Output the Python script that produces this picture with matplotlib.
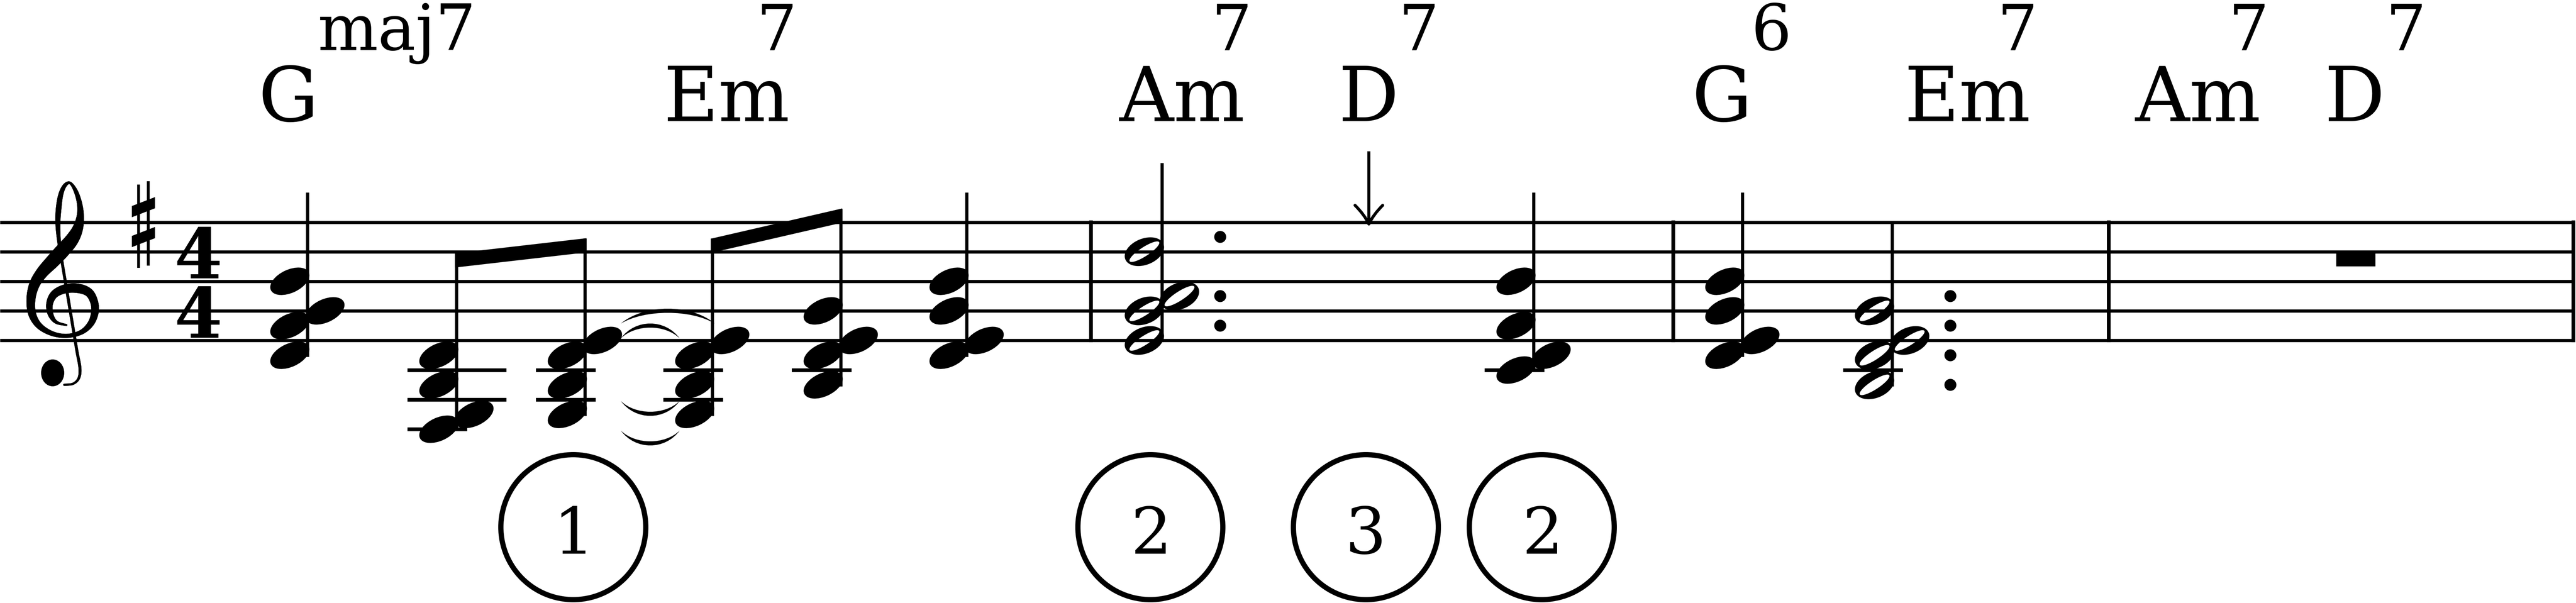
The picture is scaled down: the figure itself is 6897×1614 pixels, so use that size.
import numpy as np
import matplotlib
matplotlib.use("Agg")
import matplotlib.pyplot as plt
from matplotlib.patches import Ellipse, Circle, Rectangle, Polygon, PathPatch
from matplotlib.path import Path
from matplotlib.collections import LineCollection
from matplotlib.textpath import TextPath
from matplotlib.font_manager import FontProperties


### Dados da partitura (G maior, 4/4)

# acordes: notas de baixo para cima (o F# vem da armadura)
chord_notes = [
    ["D4", "F#4", "G4", "B4"],
    ["F#3", "G3", "B3", "D4"],
    ["G3", "B3", "D4", "E4"],
    ["G3", "B3", "D4", "E4"],
    ["B3", "D4", "E4", "G4"],
    ["D4", "E4", "G4", "B4"],
    ["E4", "G4", "A4", "D5"],
    ["C4", "D4", "F#4", "B4"],
    ["D4", "E4", "G4", "B4"],
    ["B3", "D4", "E4", "G4"],
]
chord_measure = [1, 1, 1, 1, 1, 1, 2, 2, 3, 3]
chord_beat = [1, 2, 2.5, 3, 3.5, 4, 1, 4, 1, 2]
chord_dur = [1, 0.5, 0.5, 0.5, 0.5, 1, 3, 1, 1, 3]   # em semínimas
beam_groups = [(1, 2), (3, 4)]
ties = [(2, 3)]
rest_measures = [4]
time_sig = ("4", "4")

symbol_roots = ["G", "Em", "Am", "D", "G", "Em", "Am", "D"]
symbol_sups = ["maj7", "7", "7", "7", "6", "7", "7", "7"]
arrow_at = (2, 3)
circle_labels = ["1", "2", "3", "2"]


### Layout (em pixels da imagem)
W, H = 6897, 1614
DPI = 100
PT = 72 / DPI                      # pontos por pixel
SS = 79.2                          # espaço da pauta
STAFF_TOP = 594.5
STAFF_X1 = 6894
BAR_X = [2921, 4480, 5646, 6890]
# espaçamento do gravador: x da haste de cada coluna (compasso, tempo)
COLUMN_X = {(1, 1): 823, (1, 2): 1222, (1, 2.5): 1566, (1, 3): 1907,
            (1, 3.5): 2251, (1, 4): 2588, (2, 1): 3111, (2, 3): 3665,
            (2, 4): 4106, (3, 1): 4665, (3, 2): 5066}
REST_X = 6307
NAME_X = [703, 1788, 2995, 3595, 4541, 5110, 5715, 6235]
SUP_X = [857, 2040, 3258, 3759, 4700, 5362, 5981, 6402]
NAME_BASE, NAME_CAP = 324, 147
SUP_BASE, SUP_CAP = 134, 124
CIRCLE_X = [1535, 3080, 3657, 4128]
CIRCLE_Y, CIRCLE_R = 1411, 194

STAFF_LW = 8.5
STEM_LW = 8.5
LEDGER_LW = 10
HEAD_A, HEAD_B, HEAD_ANG = 56, 31, -25

serif = FontProperties(family="DejaVu Serif")
serif_bold = FontProperties(family="DejaVu Serif", weight="bold")


def step_of(name):
    return "CDEFGAB".index(name[0]) + 7 * int(name[-1])


def y_of(step):
    # E4 (degrau 30) na linha de baixo
    return STAFF_TOP + 4 * SS - (step - 30) * SS / 2


def head_columns(steps):
    # segunda acima de uma cabeça à esquerda vai para o outro lado da haste
    cols = []
    for i, s in enumerate(steps):
        if i > 0 and s - steps[i - 1] == 1 and cols[-1] == 0:
            cols.append(1)
        else:
            cols.append(0)
    return cols


def ellipse_pts(x, y, a, b, ang, n=90, reverse=False):
    t = np.linspace(0, 2 * np.pi, n, endpoint=False)
    if reverse:
        t = t[::-1]
    c, s = np.cos(np.radians(ang)), np.sin(np.radians(ang))
    ex, ey = a * np.cos(t), b * np.sin(t)
    return np.column_stack([x + ex * c - ey * s, y + ex * s + ey * c])


def draw_head(ax, x, y, hollow):
    if not hollow:
        ax.add_patch(Ellipse((x, y), 2 * HEAD_A, 2 * HEAD_B, angle=HEAD_ANG,
                             color="black", lw=0, zorder=4))
        return
    outer = ellipse_pts(x, y, 55, 35, -22)
    inner = ellipse_pts(x, y, 47, 12, -33, reverse=True)
    verts = np.vstack([outer, outer[:1], inner, inner[:1]])
    codes = ([Path.MOVETO] + [Path.LINETO] * (len(outer) - 1) + [Path.CLOSEPOLY] +
             [Path.MOVETO] + [Path.LINETO] * (len(inner) - 1) + [Path.CLOSEPOLY])
    ax.add_patch(PathPatch(Path(verts, codes), color="black", lw=0, zorder=4))


def put_text(ax, s, x, baseline, height, ref, fp, align="left"):
    ref_h = TextPath((0, 0), ref, size=100, prop=fp).get_extents().y1 / 100
    size = height / ref_h
    ext = TextPath((0, 0), s, size=size, prop=fp).get_extents()
    if align == "left":
        x0 = x - ext.x0
    else:
        x0 = x - (ext.x0 + ext.x1) / 2
    f = fp.copy()
    f.set_size(size * PT)
    ax.text(x0, baseline, s, fontproperties=f, va="baseline", ha="left",
            color="black", zorder=5)


def put_time_sig(fig, ax, top, bottom, xc, base1, base2, height, fp):
    # um só texto de duas linhas, com o entrelinha ajustado às linhas da pauta
    ref_h = TextPath((0, 0), top, size=100, prop=fp).get_extents().y1 / 100
    size = height / ref_h
    ext = TextPath((0, 0), top, size=size, prop=fp).get_extents()
    f = fp.copy()
    f.set_size(size * PT)
    r = fig.canvas.get_renderer()
    _, lp_h, lp_d = r.get_text_width_height_descent("lp", f, ismath=False)
    asc = lp_h - lp_d
    ls = (base2 - base1 - lp_d) / asc
    ax.text(xc - (ext.x0 + ext.x1) / 2, base1 - asc, top + "\n" + bottom,
            fontproperties=f, va="top", ha="left", linespacing=ls,
            color="black", zorder=5)


def catmull(pts, n=16):
    P = np.vstack([pts[0], pts, pts[-1]])
    out = []
    for i in range(1, len(P) - 2):
        p0, p1, p2, p3 = P[i - 1], P[i], P[i + 1], P[i + 2]
        t = np.linspace(0, 1, n, endpoint=False)[:, None]
        out.append(0.5 * (2 * p1 + (-p0 + p2) * t + (2 * p0 - 5 * p1 + 4 * p2 - p3) * t ** 2
                          + (-p0 + 3 * p1 - 3 * p2 + p3) * t ** 3))
    out.append(P[-2][None])
    return np.vstack(out)


def draw_clef(ax):
    # linha central da clave de sol (x, y, espessura em px)
    pts = np.array([
        (178, 870, 5), (150, 862, 9), (135, 840, 15), (133, 812, 18),
        (146, 787, 21), (175, 773, 24), (210, 772, 25), (238, 783, 23),
        (252, 808, 21), (254, 836, 20), (243, 866, 17), (218, 889, 13),
        (180, 899, 11), (140, 893, 13), (105, 872, 17), (86, 840, 21),
        (83, 800, 24), (92, 762, 28), (112, 730, 32), (140, 700, 37),
        (168, 670, 39), (192, 642, 36), (208, 612, 28), (215, 578, 19),
        (213, 545, 14), (203, 512, 11), (188, 490, 7), (174, 496, 10),
        (163, 520, 13), (157, 558, 15), (155, 600, 13), (158, 645, 10),
        (166, 700, 8), (176, 760, 8), (186, 820, 8), (196, 880, 8),
        (206, 940, 8), (214, 985, 8), (211, 1012, 7), (196, 1027, 6),
        (172, 1030, 6),
    ], float)
    curve = catmull(pts)
    segs = np.stack([curve[:-1, :2], curve[1:, :2]], axis=1)
    widths = (curve[:-1, 2] + curve[1:, 2]) / 2 * PT
    ax.add_collection(LineCollection(segs, linewidths=widths, colors="black",
                                     capstyle="round", zorder=4))
    ax.add_patch(Ellipse((141, 998), 62, 72, color="black", lw=0, zorder=4))


def draw_sharp(ax, x, y):
    ax.plot([x - 13, x - 13], [y - 101, y + 122], color="black", lw=7.5 * PT,
            solid_capstyle="butt", zorder=4)
    ax.plot([x + 13, x + 13], [y - 110, y + 116], color="black", lw=7.5 * PT,
            solid_capstyle="butt", zorder=4)
    for dy in (-40, 40):
        cy = y + dy
        ax.add_patch(Polygon([(x - 31, cy - 15 + 12), (x + 31, cy - 15 - 12),
                              (x + 31, cy + 15 - 12), (x - 31, cy + 15 + 12)],
                             closed=True, color="black", lw=0, zorder=4))


def draw_tie(ax, x1, x2, y0, up, h=40, thick=11):
    sgn = -1 if up else 1
    L = x2 - x1
    ho, hi = h * 4 / 3, (h - thick) * 4 / 3
    verts = [(x1, y0), (x1 + 0.25 * L, y0 + sgn * ho), (x2 - 0.25 * L, y0 + sgn * ho), (x2, y0),
             (x2 - 0.25 * L, y0 + sgn * hi), (x1 + 0.25 * L, y0 + sgn * hi), (x1, y0), (x1, y0)]
    codes = [Path.MOVETO, Path.CURVE4, Path.CURVE4, Path.CURVE4,
             Path.CURVE4, Path.CURVE4, Path.CURVE4, Path.CLOSEPOLY]
    ax.add_patch(PathPatch(Path(verts, codes), color="black", lw=0, zorder=4))


if __name__ == "__main__":
    fig = plt.figure(figsize=(W / DPI, H / DPI), dpi=DPI)
    ax = fig.add_axes([0, 0, 1, 1])
    ax.set_xlim(0, W)
    ax.set_ylim(H, 0)
    ax.axis("off")

    # pauta e barras de compasso
    for i in range(5):
        ax.plot([0, STAFF_X1], [STAFF_TOP + i * SS] * 2, color="black",
                lw=STAFF_LW * PT, solid_capstyle="butt", zorder=1)
    for bx in BAR_X:
        ax.plot([bx, bx], [STAFF_TOP - STAFF_LW / 2, STAFF_TOP + 4 * SS + STAFF_LW / 2],
                color="black", lw=10 * PT, solid_capstyle="butt", zorder=2)

    draw_clef(ax)
    draw_sharp(ax, 384, y_of(step_of("F5")))
    put_time_sig(fig, ax, time_sig[0], time_sig[1], 531, 745, 904, 137, serif_bold)

    # geometria de cada acorde
    info = []
    for k, notes in enumerate(chord_notes):
        steps = sorted(step_of(n) for n in notes)
        cols = head_columns(steps)
        sx = COLUMN_X[(chord_measure[k], chord_beat[k])]
        info.append(dict(steps=steps, cols=cols, x=sx,
                         low=y_of(steps[0]), high=y_of(steps[-1])))

    # barras de colcheia
    stem_top = {}
    for a, b in beam_groups:
        ta = info[a]["high"] - 3.45 * SS
        tb = info[b]["high"] - 3.45 * SS
        xa, xb = info[a]["x"] - 4, info[b]["x"] + 4
        slope = (tb - ta) / (info[b]["x"] - info[a]["x"])
        ya, yb = ta - 4 * slope, tb + 4 * slope
        ax.add_patch(Polygon([(xa, ya), (xb, yb), (xb, yb + 38), (xa, ya + 38)],
                             closed=True, color="black", lw=0, zorder=4))
        stem_top[a], stem_top[b] = ta, tb

    for k, c in enumerate(info):
        sx = c["x"]
        hollow = chord_dur[k] >= 2
        for s, col in zip(c["steps"], c["cols"]):
            hx = sx - 47 if col == 0 else sx + 47
            draw_head(ax, hx, y_of(s), hollow)
        # linhas suplementares
        for L in (28, 26, 24):
            below = [col for s, col in zip(c["steps"], c["cols"]) if s <= L]
            if not below:
                continue
            x0 = sx - 131 if 0 in below else sx - 20
            x1 = sx + 134 if 1 in below else sx + 29
            ax.plot([x0, x1], [y_of(L)] * 2, color="black", lw=LEDGER_LW * PT,
                    solid_capstyle="butt", zorder=3)
        top = stem_top.get(k, c["high"] - 3 * SS)
        ax.plot([sx, sx], [c["low"] + 4, top], color="black", lw=STEM_LW * PT,
                solid_capstyle="butt", zorder=4)
        # pontos de aumento
        if chord_dur[k] in (1.5, 3):
            used = set()
            for s in c["steps"]:
                d = s if s % 2 == 1 else s + 1
                if d in used:
                    continue
                used.add(d)
                ax.add_patch(Circle((sx + 156, y_of(d)), 16, color="black", lw=0, zorder=4))

    # ligaduras de prolongamento
    for a, b in ties:
        ca, cb = info[a], info[b]
        right_a = ca["x"] + (99 if 1 in ca["cols"] else 5)
        n = len(ca["steps"])
        for i, s in enumerate(ca["steps"]):
            colb = cb["cols"][cb["steps"].index(s)]
            x2 = (cb["x"] - 99 if colb == 0 else cb["x"] - 5) + 12
            up = i >= n // 2
            y0 = y_of(s) - 45 if up else y_of(s) + 43
            draw_tie(ax, right_a - 3, x2, y0, up)

    # pausa de semibreve
    for m in rest_measures:
        ax.add_patch(Rectangle((REST_X - 52, STAFF_TOP + SS), 105, 39,
                               color="black", lw=0, zorder=4))

    # cifras
    for k in range(len(symbol_roots)):
        put_text(ax, symbol_roots[k], NAME_X[k], NAME_BASE, NAME_CAP, "H", serif)
        put_text(ax, symbol_sups[k], SUP_X[k], SUP_BASE, SUP_CAP, "7", serif)

    # seta
    axx = COLUMN_X[arrow_at]
    tip = STAFF_TOP + 5
    ax.plot([axx, axx], [409, tip - 3], color="black", lw=8 * PT, zorder=4)
    for side in (-1, 1):
        wing = Path([(axx + side * 37, tip - 50), (axx + side * 12, tip - 25), (axx, tip)],
                    [Path.MOVETO, Path.CURVE3, Path.CURVE3])
        ax.add_patch(PathPatch(wing, fill=False, lw=8 * PT, color="black",
                               capstyle="round", zorder=4))

    # círculos numerados
    for cx, lab in zip(CIRCLE_X, circle_labels):
        ax.add_patch(Circle((cx, CIRCLE_Y), CIRCLE_R, fill=False, lw=14 * PT,
                            color="black", zorder=4))
        put_text(ax, lab, cx, 1482, 126, "7", serif, align="center")

    fig.savefig("out.png", dpi=DPI, facecolor="white")
